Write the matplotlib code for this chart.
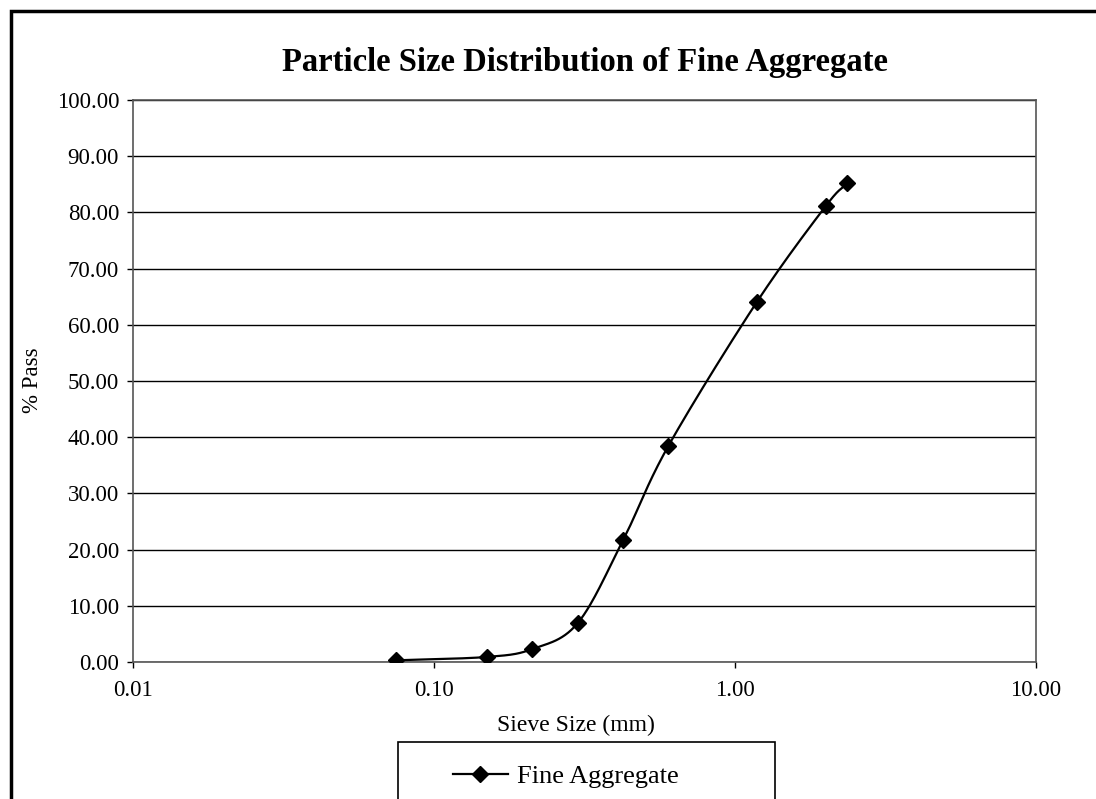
import numpy as np
import matplotlib
matplotlib.use("Agg")
import matplotlib.pyplot as plt
from matplotlib.patches import Rectangle
from matplotlib.lines import Line2D

sieve_mm = [0.075, 0.150, 0.212, 0.300, 0.425, 0.600, 1.18, 2.00, 2.36]
pct_pass = [0.3, 0.9, 2.3, 6.9, 21.7, 38.4, 64.0, 81.1, 85.2]
x_ticks = [0.01, 0.1, 1, 10]
x_tick_labels = ["0.01", "0.10", "1.00", "10.00"]
y_ticks = list(range(0, 101, 10))
series_name = "Fine Aggregate"

plt.rcParams['font.family'] = ['Liberation Serif', 'DejaVu Serif']

W, H = 1096, 799
fig = plt.figure(figsize=(W / 100, H / 100), dpi=100)

def fx(px):
    return px / W

def fy(py):
    return 1 - py / H

ax = fig.add_axes([fx(133), fy(662), fx(1036) - fx(133), fy(100) - fy(662)])

# smooth (Catmull-Rom) line in log-x space, like Excel's smoothed line
lx = np.log10(sieve_mm)
yy = np.array(pct_pass, dtype=float)
P = np.column_stack([lx, yy])
Pext = np.vstack([2 * P[0] - P[1], P, 2 * P[-1] - P[-2]])
curve = []
for i in range(1, len(Pext) - 2):
    p0, p1, p2, p3 = Pext[i - 1], Pext[i], Pext[i + 1], Pext[i + 2]
    t = np.linspace(0, 1, 30)[:, None]
    seg = 0.5 * ((2 * p1) + (-p0 + p2) * t + (2 * p0 - 5 * p1 + 4 * p2 - p3) * t ** 2
                 + (-p0 + 3 * p1 - 3 * p2 + p3) * t ** 3)
    curve.append(seg)
curve = np.vstack(curve)
ax.plot(10 ** curve[:, 0], curve[:, 1], color='black', lw=1.6, zorder=3)
ax.plot(sieve_mm, pct_pass, linestyle='none', marker='D', ms=8, color='black', zorder=4)

ax.set_xscale('log')
ax.set_xlim(0.01, 10)
ax.set_ylim(0, 100)
ax.set_xticks(x_ticks)
ax.set_xticklabels(x_tick_labels)
ax.xaxis.set_minor_locator(matplotlib.ticker.NullLocator())
ax.set_yticks(y_ticks)
ax.set_yticklabels([f"{v:.2f}" for v in y_ticks])
ax.tick_params(axis='both', labelsize=16.5, direction='out', length=4, width=1, colors='black')
ax.tick_params(axis='x', pad=9)
ax.tick_params(axis='y', pad=6)
ax.yaxis.grid(True, color='black', lw=1)
ax.set_axisbelow(True)
for s in ax.spines.values():
    s.set_color('#555555')
    s.set_linewidth(1.2)

fig.text(fx(585), fy(62), "Particle Size Distribution of Fine Aggregate", ha='center', va='center',
         fontsize=23.5, fontweight='bold')
fig.text(fx(33), fy(380), "% Pass", ha='center', va='center', rotation=90, fontsize=16.5)
fig.text(fx(576), fy(725), "Sieve Size (mm)", ha='center', va='center', fontsize=17)

# figure border (left and top visible)
fig.patches.append(Rectangle((fx(11), fy(830)), 1.2, fy(11) - fy(830), transform=fig.transFigure,
                             fill=False, edgecolor='black', lw=2.5))

# legend box
fig.patches.append(Rectangle((fx(398), fy(830)), fx(775) - fx(398), fy(742) - fy(830),
                             transform=fig.transFigure, fill=False, edgecolor='black', lw=1.2))
handle = Line2D([], [], color='black', lw=1.6, marker='D', ms=8)
fig.legend([handle], [series_name], loc='center left', bbox_to_anchor=(fx(453), fy(776)),
           frameon=False, fontsize=19, handlelength=2.08, handletextpad=0.34, borderpad=0,
           borderaxespad=0)

fig.savefig("out.png", dpi=100)
